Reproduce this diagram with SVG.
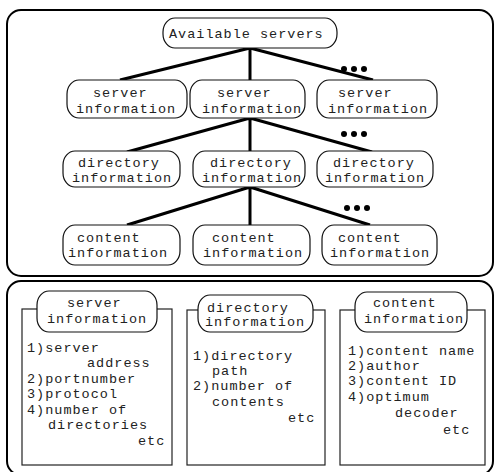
<svg xmlns="http://www.w3.org/2000/svg" width="495" height="472" viewBox="0 0 495 472">
  <style>
    .panel { fill: none; stroke: #000; stroke-width: 2; }
    .node { fill: #fff; stroke: #111; stroke-width: 1.2; }
    .card { fill: #fff; stroke: #222; stroke-width: 1.2; }
    .t { font-family: "Liberation Mono", "Courier New", monospace; font-size: 13.5px; letter-spacing: 1px; fill: #222; }
    .link { stroke: #000; stroke-width: 3; fill: none; stroke-linecap: butt; }
    .dot { fill: #000; }
  </style>
  <rect width="495" height="472" fill="#fff"/>

  <!-- panels -->
  <rect class="panel" x="7" y="10" width="486" height="266" rx="14" ry="14"/>
  <rect class="panel" x="7" y="281" width="486" height="194" rx="14" ry="14"/>

  <!-- connectors -->
  <g id="connectors">
    <path class="link" d="M250 48 L120 80 M250 48 L250 80 M250 48 L373 80"/>
    <path class="link" d="M250 118 L127 152 M250 118 L250 152 M250 118 L372 152"/>
    <path class="link" d="M250 187 L127 225 M250 187 L250 225 M250 187 L370 225"/>
    <g class="dot">
      <circle cx="344" cy="69" r="3"/><circle cx="354" cy="69" r="3"/><circle cx="364" cy="69" r="3"/>
      <circle cx="344" cy="134" r="3"/><circle cx="354" cy="134" r="3"/><circle cx="364" cy="134" r="3"/>
      <circle cx="347" cy="208" r="3"/><circle cx="357" cy="208" r="3"/><circle cx="367" cy="208" r="3"/>
    </g>
  </g>

  <!-- tree nodes -->
  <g id="root">
    <rect class="node" x="163" y="18" width="174" height="30" rx="12" ry="14"/>
    <text class="t" x="169" y="38">Available servers</text>
  </g>

  <g id="server1">
    <rect class="node" x="67" y="80" width="120" height="38" rx="12" ry="14"/>
    <text class="t" x="93" y="97">server</text>
    <text class="t" x="76" y="113">information</text>
  </g>
  <g id="server2">
    <rect class="node" x="190" y="80" width="115" height="38" rx="12" ry="14"/>
    <text class="t" x="217" y="97">server</text>
    <text class="t" x="202" y="113">information</text>
  </g>
  <g id="server3">
    <rect class="node" x="317" y="80" width="120" height="38" rx="12" ry="14"/>
    <text class="t" x="338" y="97">server</text>
    <text class="t" x="328" y="113">information</text>
  </g>

  <g id="directory1">
    <rect class="node" x="63" y="151" width="117" height="36" rx="12" ry="14"/>
    <text class="t" x="78" y="167">directory</text>
    <text class="t" x="72" y="182">information</text>
  </g>
  <g id="directory2">
    <rect class="node" x="193" y="151" width="112" height="36" rx="12" ry="14"/>
    <text class="t" x="210" y="167">directory</text>
    <text class="t" x="202" y="182">information</text>
  </g>
  <g id="directory3">
    <rect class="node" x="317" y="151" width="116" height="36" rx="12" ry="14"/>
    <text class="t" x="333" y="167">directory</text>
    <text class="t" x="325" y="182">information</text>
  </g>

  <g id="content1">
    <rect class="node" x="63" y="225" width="117" height="40" rx="12" ry="14"/>
    <text class="t" x="77" y="242">content</text>
    <text class="t" x="68" y="257">information</text>
  </g>
  <g id="content2">
    <rect class="node" x="193" y="225" width="117" height="40" rx="12" ry="14"/>
    <text class="t" x="212" y="242">content</text>
    <text class="t" x="203" y="257">information</text>
  </g>
  <g id="content3">
    <rect class="node" x="322" y="225" width="115" height="40" rx="12" ry="14"/>
    <text class="t" x="338" y="242">content</text>
    <text class="t" x="330" y="257">information</text>
  </g>

  <!-- detail cards -->
  <g id="server-card">
    <rect class="card" x="22" y="309" width="150" height="156"/>
    <rect class="node" x="37" y="291" width="120" height="41" rx="12" ry="14"/>
    <text class="t" x="67" y="307">server</text>
    <text class="t" x="47" y="323">information</text>
    <text class="t" x="27" y="352">1)server</text>
    <text class="t" x="87" y="367">address</text>
    <text class="t" x="27" y="383">2)portnumber</text>
    <text class="t" x="27" y="398">3)protocol</text>
    <text class="t" x="27" y="414">4)number of</text>
    <text class="t" x="48" y="429">directories</text>
    <text class="t" x="138" y="445">etc</text>
  </g>

  <g id="directory-card">
    <rect class="card" x="187" y="310" width="138" height="155"/>
    <rect class="node" x="198" y="295" width="115" height="37" rx="12" ry="14"/>
    <text class="t" x="207" y="312">directory</text>
    <text class="t" x="205" y="326">information</text>
    <text class="t" x="193" y="360">1)directory</text>
    <text class="t" x="212" y="375">path</text>
    <text class="t" x="193" y="390">2)number of</text>
    <text class="t" x="212" y="406">contents</text>
    <text class="t" x="288" y="422">etc</text>
  </g>

  <g id="content-card">
    <rect class="card" x="340" y="310" width="145" height="155"/>
    <rect class="node" x="355" y="292" width="112" height="40" rx="12" ry="14"/>
    <text class="t" x="373" y="307">content</text>
    <text class="t" x="364" y="323">information</text>
    <text class="t" x="348" y="355">1)content name</text>
    <text class="t" x="348" y="370">2)author</text>
    <text class="t" x="348" y="385">3)content ID</text>
    <text class="t" x="348" y="401">4)optimum</text>
    <text class="t" x="395" y="417">decoder</text>
    <text class="t" x="443" y="434">etc</text>
  </g>
</svg>
